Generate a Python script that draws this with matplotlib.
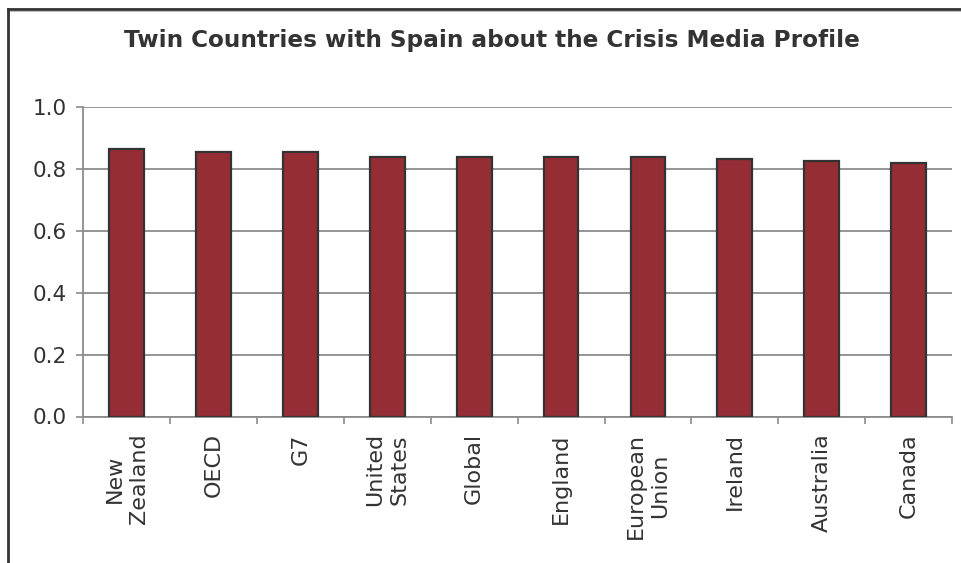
import matplotlib.pyplot as plt
from matplotlib.lines import Line2D
import numpy as np

# Media profile similarity with Spain
countries = ["New\nZealand", "OECD", "G7", "United\nStates", "Global",
             "England", "European\nUnion", "Ireland", "Australia", "Canada"]
similarity = [0.864, 0.853, 0.853, 0.840, 0.840, 0.840, 0.840, 0.832, 0.827, 0.820]
yticks = [0.0, 0.2, 0.4, 0.6, 0.8, 1.0]

bar_color = '#952d35'
edge_color = '#333333'
grid_color = '#8c8c8c'
text_color = '#333333'

W, H = 962, 563
fig = plt.figure(figsize=(W / 100, H / 100), dpi=100)
ax = fig.add_axes([83.3 / W, 1 - 416.5 / H, (952 - 83.3) / W, (416.5 - 107) / H])

x = np.arange(len(countries))
ax.bar(x, similarity, width=0.4, color=bar_color, edgecolor=edge_color,
       linewidth=1.6, zorder=3)

ax.set_xlim(-0.5, len(countries) - 0.5)
ax.set_ylim(0, 1.0)
ax.set_yticks(yticks)
ax.set_yticklabels(['%.1f' % v for v in yticks], fontsize=15.5, color=text_color)
ax.yaxis.grid(True, color=grid_color, linewidth=1.3, zorder=0)

# category labels between boundary ticks
ax.set_xticks(x)
ax.set_xticklabels(countries, rotation=90, fontsize=16, color=text_color,
                   multialignment='center', linespacing=1.25)
ax.set_xticks(np.arange(len(countries) + 1) - 0.5, minor=True)
ax.tick_params(axis='x', which='major', length=0, pad=12)
ax.tick_params(axis='x', which='minor', length=5, width=1.2, color=grid_color)
ax.tick_params(axis='y', length=5, width=1.2, color=grid_color, pad=7)

for side in ['top', 'right']:
    ax.spines[side].set_visible(False)
for side in ['left', 'bottom']:
    ax.spines[side].set_color(grid_color)
    ax.spines[side].set_linewidth(1.3)

fig.text(491.5 / W, 1 - 41 / H, 'Twin Countries with Spain about the Crisis Media Profile',
         ha='center', va='center', fontsize=16.7, fontweight='bold', color=text_color)

# outer frame (top and left edges)
fig.add_artist(Line2D([8 / W, 1], [1 - 9 / H, 1 - 9 / H], transform=fig.transFigure,
                      color='#333333', linewidth=2))
fig.add_artist(Line2D([8 / W, 1], [1 - 10.5 / H, 1 - 10.5 / H], transform=fig.transFigure,
                      color='#bbbbbb', linewidth=0.8))
fig.add_artist(Line2D([8 / W, 8 / W], [1 - 9 / H, 0], transform=fig.transFigure,
                      color='#333333', linewidth=2))

fig.savefig('out.png', dpi=100)
